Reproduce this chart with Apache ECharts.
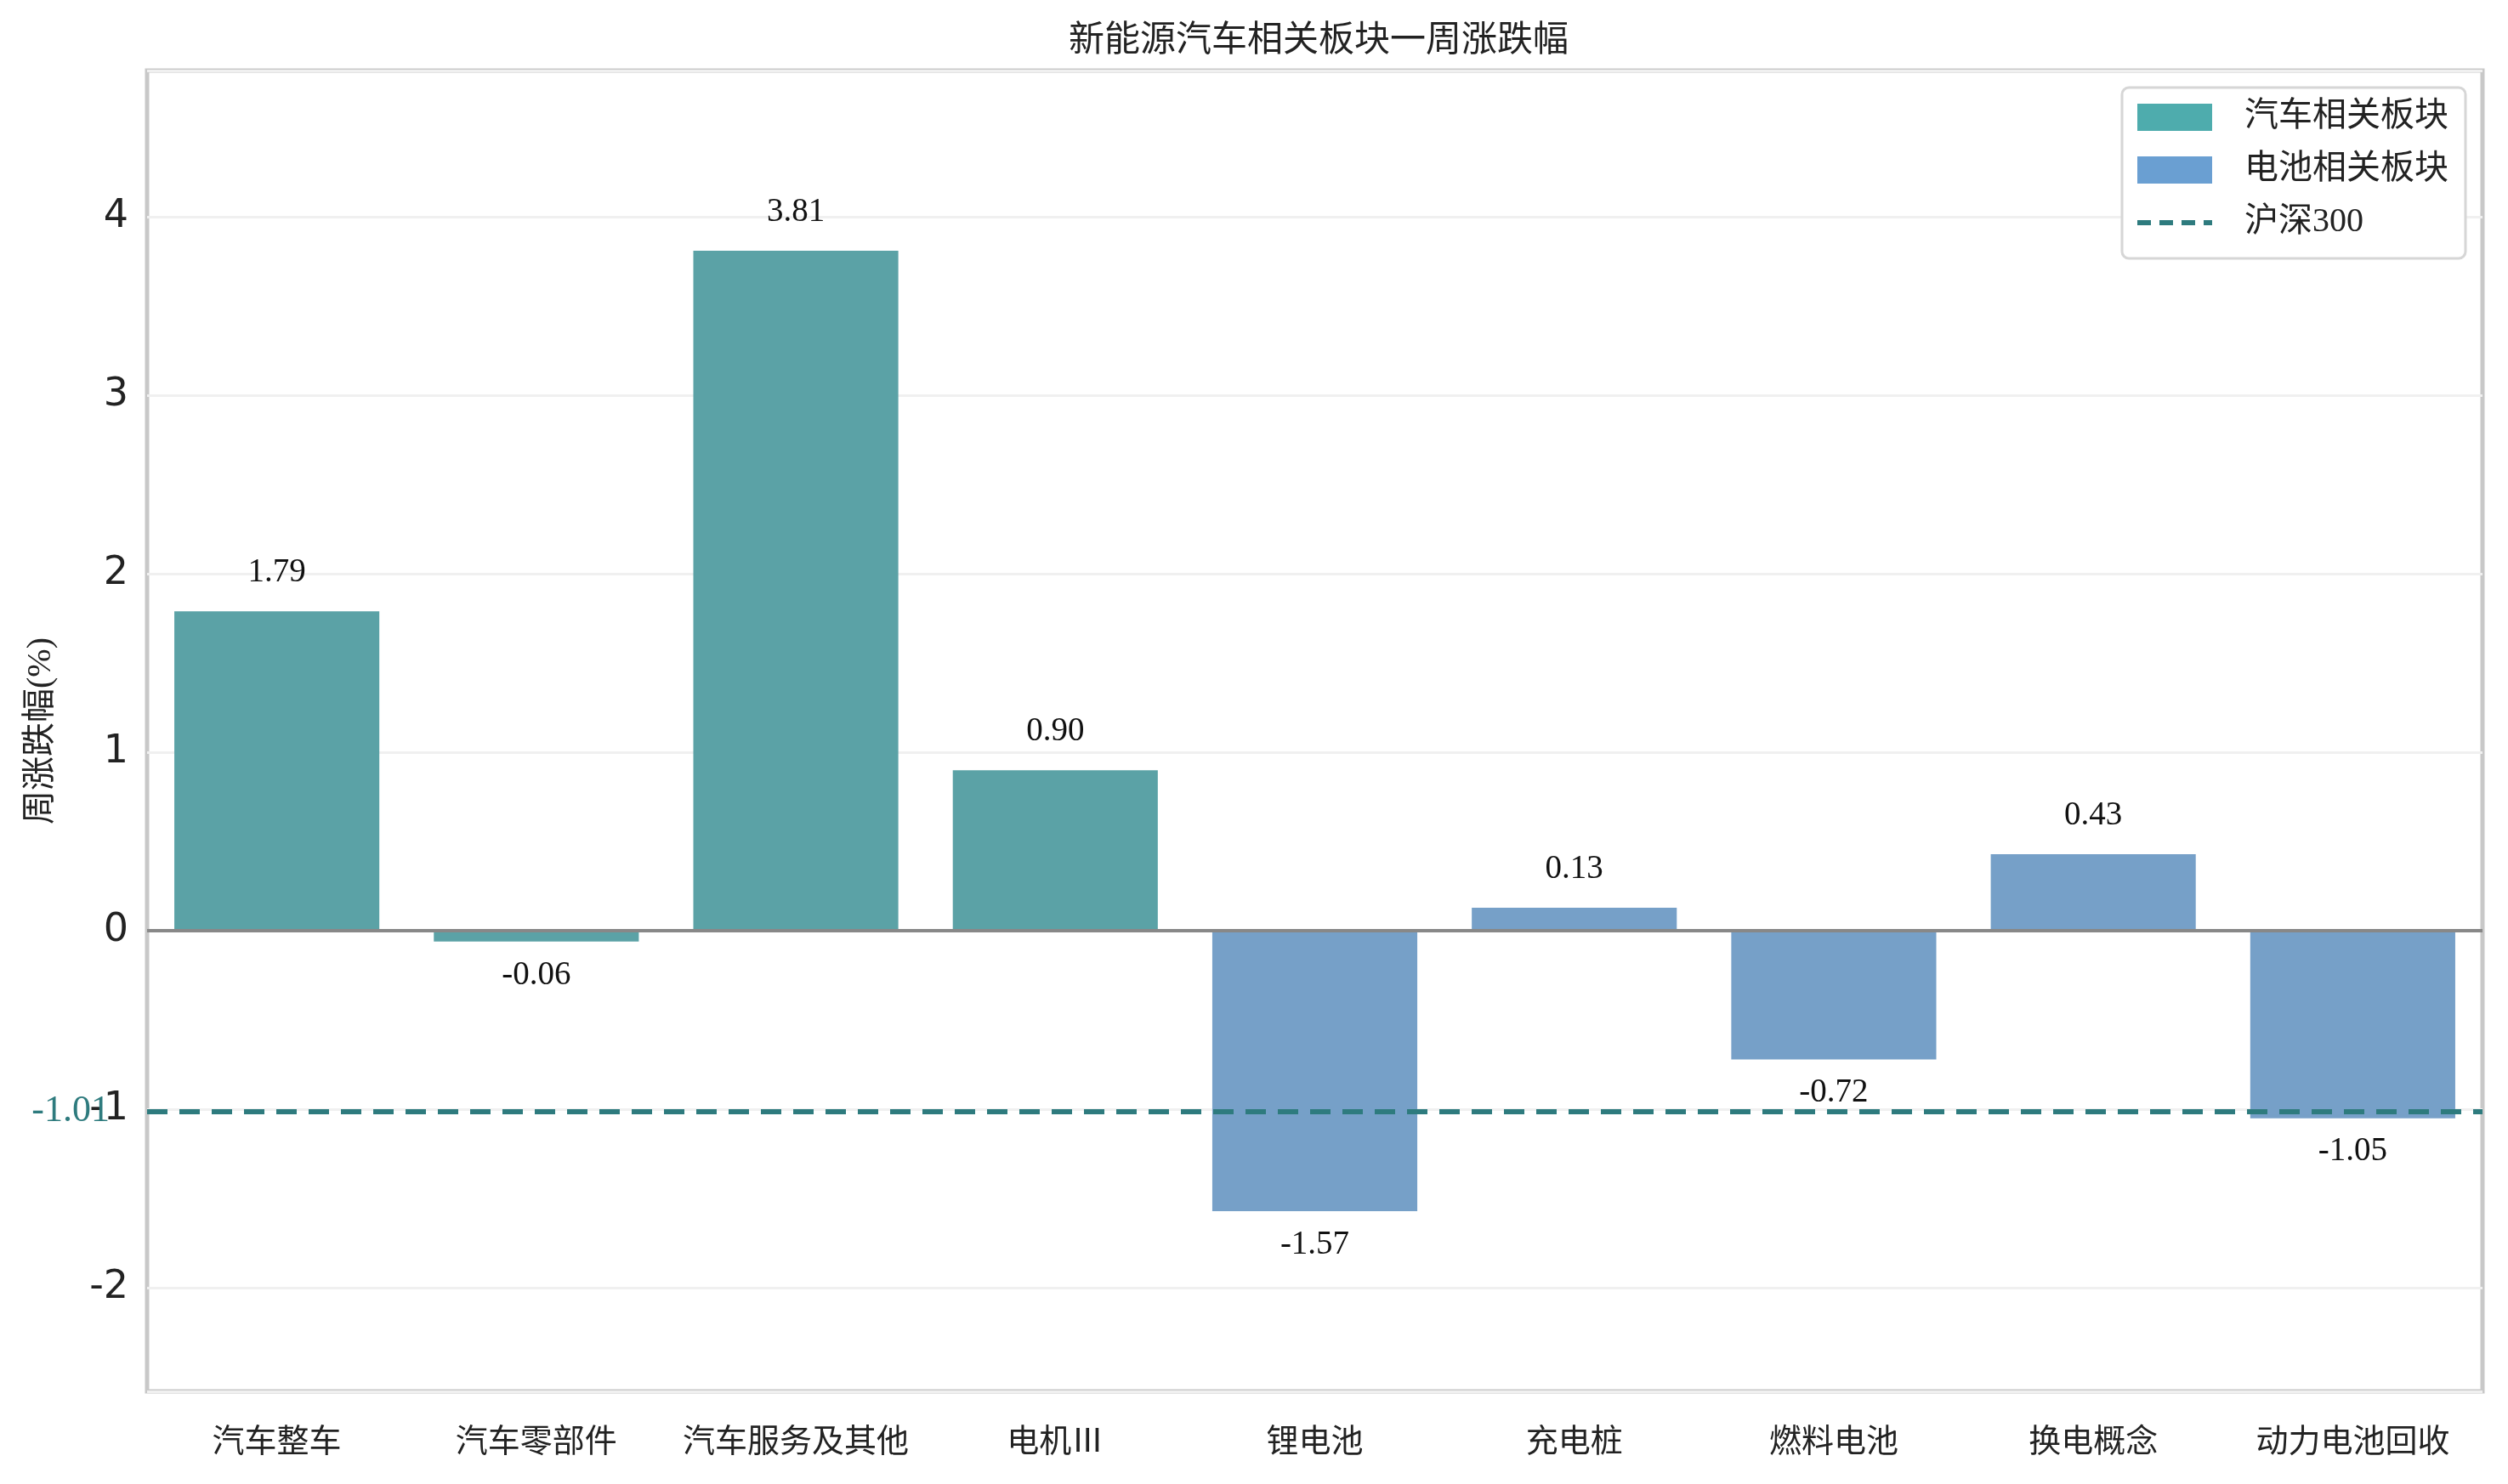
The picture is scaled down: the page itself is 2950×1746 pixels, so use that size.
<!DOCTYPE html>
<html>
<head>
<meta charset="utf-8">
<script src="https://cdn.jsdelivr.net/npm/echarts@6/dist/echarts.min.js"></script>
<style>
  html, body { margin: 0; padding: 0; background: #fff; }
  #chart { width: 2950px; height: 1746px; }
</style>
</head>
<body>
<div id="chart"></div>
<script>
// values
const categories = ["汽车整车", "汽车零部件", "汽车服务及其他", "电机Ⅲ", "锂电池", "充电桩", "燃料电池", "换电概念", "动力电池回收"];
const carValues = [1.79, -0.06, 3.81, 0.90, null, null, null, null, null];
const batteryValues = [null, null, null, null, -1.57, 0.13, -0.72, 0.43, -1.05];
const hs300 = -1.01;
const seriesNames = ["汽车相关板块", "电池相关板块", "沪深300"];

const CJK = "Noto Sans CJK SC";
const NUM = "Liberation Serif";

// positive labels sit above the bar, negative ones below
function toItems(values) {
  return values.map((v) =>
    v === null
      ? null
      : { value: v, label: { position: v >= 0 ? "top" : "bottom", distance: v >= 0 ? 26 : 20 } }
  );
}

const barLabel = {
  show: true,
  formatter: (p) => p.value.toFixed(2),
  fontFamily: NUM,
  fontSize: 39,
  color: "#111"
};

const chart = echarts.init(document.getElementById("chart"));
chart.setOption({
  animation: false,
  backgroundColor: "#fff",
  title: {
    text: "新能源汽车相关板块一周涨跌幅",
    left: 1546,
    top: 18,
    textAlign: "center",
    textStyle: { fontFamily: CJK, fontSize: 42, fontWeight: "normal", color: "#222" }
  },
  legend: {
    orient: "vertical",
    right: 50,
    top: 103,
    data: [
      { name: seriesNames[0], icon: "rect", itemStyle: { color: "#4EACAD" } },
      { name: seriesNames[1], icon: "rect", itemStyle: { color: "#6A9FD2" } },
      {
        name: seriesNames[2],
        itemStyle: { color: "transparent", borderWidth: 0 },
        lineStyle: { color: "#2E7B7E", width: 6, type: [16, 10] }
      }
    ],
    itemWidth: 88,
    itemHeight: 32,
    itemGap: 22,
    padding: [15, 20, 22, 15],
    backgroundColor: "#fff",
    borderColor: "#d6d6d6",
    borderWidth: 3,
    borderRadius: 8,
    textStyle: { fontFamily: NUM + ", " + CJK, fontSize: 40, color: "#222", padding: [0, 0, 0, 33] }
  },
  grid: {
    left: 173,
    right: 30,
    top: 83,
    bottom: 109,
    show: true,
    borderColor: "#c8c8c8",
    borderWidth: 5
  },
  xAxis: {
    type: "category",
    data: categories,
    axisLine: { show: false },
    axisTick: { show: false },
    axisLabel: { fontFamily: CJK, fontSize: 38, color: "#222", margin: 38, interval: 0 }
  },
  yAxis: {
    type: "value",
    min: -2.58,
    max: 4.82,
    splitNumber: 7,
    name: "周涨跌幅(%)",
    nameLocation: "middle",
    nameGap: 105,
    nameTextStyle: { fontFamily: NUM + ", " + CJK, fontSize: 40, color: "#222" },
    axisLine: { show: false },
    axisTick: { show: false },
    axisLabel: {
      fontFamily: "DejaVu Sans",
      fontSize: 46,
      color: "#222",
      margin: 22,
      formatter: (v) => (Number.isInteger(v) ? String(v) : "")
    },
    splitLine: { lineStyle: { color: "#f0f0f0", width: 3 } }
  },
  series: [
    {
      name: seriesNames[0],
      type: "bar",
      stack: "all",
      barWidth: "79%",
      data: toItems(carValues),
      itemStyle: { color: "#5BA2A6" },
      label: barLabel,
      markLine: {
        silent: true,
        symbol: "none",
        label: { show: false },
        lineStyle: { color: "#888", width: 4, type: "solid" },
        data: [{ yAxis: 0 }]
      }
    },
    {
      name: seriesNames[1],
      type: "bar",
      stack: "all",
      barWidth: "79%",
      data: toItems(batteryValues),
      itemStyle: { color: "#76A0C8" },
      label: barLabel
    },
    {
      name: seriesNames[2],
      type: "line",
      symbol: "none",
      data: categories.map(() => null),
      lineStyle: { color: "#2E7B7E", width: 6, type: [24, 14] },
      z: 5,
      markLine: {
        silent: true,
        symbol: "none",
        lineStyle: { color: "#2E7B7E", width: 6, type: [24, 14] },
        label: {
          show: true,
          position: "start",
          distance: 44,
          formatter: hs300.toFixed(2),
          fontFamily: NUM,
          fontSize: 44,
          color: "#2E7B7E"
        },
        data: [{ yAxis: hs300 }]
      }
    }
  ]
});
</script>
</body>
</html>
